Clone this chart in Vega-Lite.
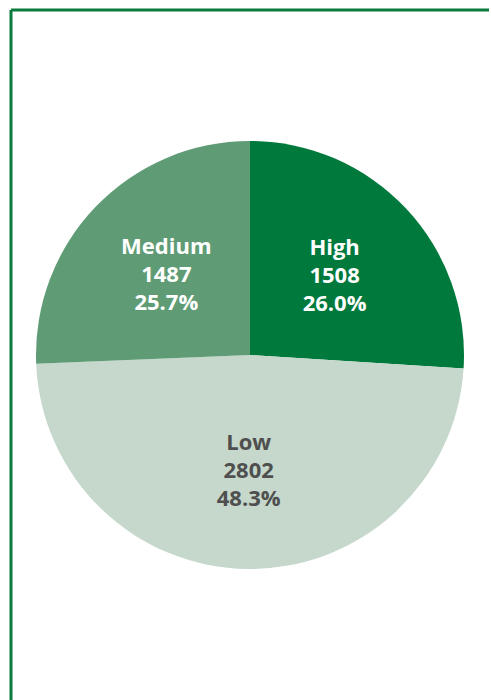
{
  "$schema": "https://vega.github.io/schema/vega-lite/v6.json",
  "autosize": "none",
  "width": 478,
  "height": 690,
  "padding": {"left": 11, "top": 10, "right": 2, "bottom": 0},
  "background": "white",
  "view": {"stroke": null},
  "data": {
    "values": [
      {"level": "High", "count": 1508, "pct": "26.0%", "ord": 1},
      {"level": "Low", "count": 2802, "pct": "48.3%", "ord": 2},
      {"level": "Medium", "count": 1487, "pct": "25.7%", "ord": 3}
    ]
  },
  "transform": [
    {"calculate": "datum.level + '\\n' + datum.count + '\\n' + datum.pct", "as": "label"}
  ],
  "layer": [
    {
      "mark": {"type": "arc", "outerRadius": 214},
      "encoding": {
        "theta": {"field": "count", "type": "quantitative", "stack": true},
        "order": {"field": "ord", "type": "quantitative"},
        "color": {
          "field": "level", "type": "nominal",
          "scale": {"domain": ["High", "Low", "Medium"], "range": ["#00793C", "#C5D8CB", "#5F9C75"]},
          "legend": null
        }
      }
    },
    {
      "mark": {"type": "text", "radius": 116, "dy": -28, "font": "Open Sans", "fontWeight": "bold", "fontSize": 22, "lineBreak": "\n", "lineHeight": 28, "baseline": "middle", "align": "center"},
      "encoding": {
        "theta": {"field": "count", "type": "quantitative", "stack": true},
        "order": {"field": "ord", "type": "quantitative"},
        "text": {"field": "label", "type": "nominal"},
        "color": {
          "field": "level", "type": "nominal",
          "scale": {"domain": ["High", "Low", "Medium"], "range": ["#FFFFFF", "#4F4F4F", "#FFFFFF"]},
          "legend": null
        }
      }
    },
    {
      "data": {"values": [{"edge": "top"}]},
      "mark": {"type": "rule", "color": "#0A7A3D", "strokeWidth": 3},
      "encoding": {"y": {"value": 0}}
    },
    {
      "data": {"values": [{"edge": "left"}]},
      "mark": {"type": "rule", "color": "#0A7A3D", "strokeWidth": 3},
      "encoding": {"x": {"value": 0}}
    }
  ],
  "resolve": {"scale": {"color": "independent"}}
}
